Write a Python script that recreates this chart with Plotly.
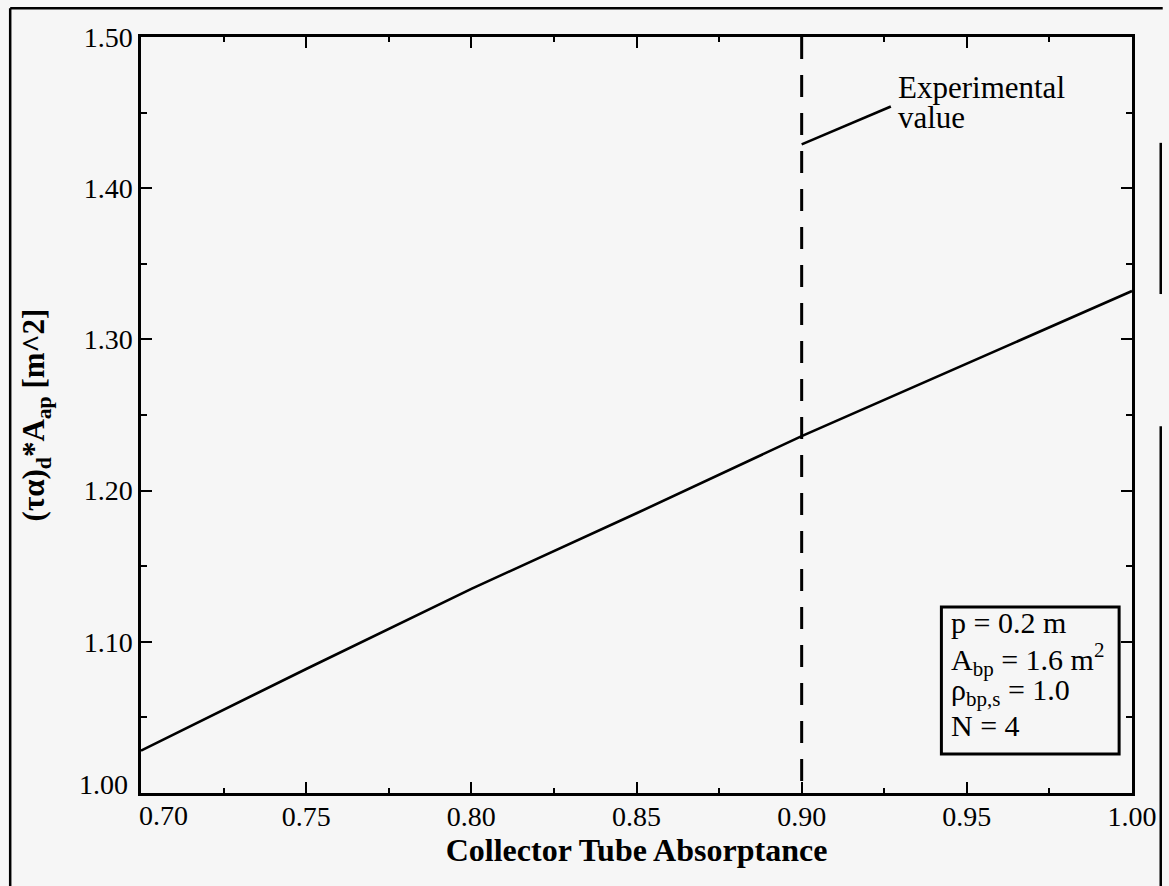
import plotly.graph_objects as go

# Absorptance sweep and resulting effective aperture product
absorptance = [0.70, 0.75, 0.80, 0.85, 0.90, 0.95, 1.00]
tau_alpha_area = [1.028, 1.082, 1.135, 1.185, 1.236, 1.284, 1.332]

# Experimental value marker and its label leader
experimental_x = [0.90, 0.90]
experimental_y = [1.50, 1.00]
leader_x = [0.90, 0.927]
leader_y = [1.429, 1.454]

# Tick labels; the corner labels 0.70 and 1.00 are placed separately
x_ticks = [0.75, 0.80, 0.85, 0.90, 0.95, 1.00]
x_tick_text = ["0.75", "0.80", "0.85", "0.90", "0.95", "1.00"]
y_ticks = [1.10, 1.20, 1.30, 1.40, 1.50]
y_tick_text = ["1.10", "1.20", "1.30", "1.40", "1.50"]

# Parameter legend: box extent and its text lines
params_box_x = [0.9423, 0.9961]
params_box_y = [1.0258, 1.1230]
params_lines = ["p = 0.2 m",
                "A<sub>bp</sub> = 1.6 m<sup>2</sup>",
                "ρ<sub>bp,s</sub> = 1.0",
                "N = 4"]
params_line_y = [1.1128, 1.0885, 1.0668, 1.0448]

FONT = "Liberation Serif"
BG = "#f6f6f6"
TICK_SIZE = 28

fig = go.Figure()
fig.add_trace(go.Scatter(x=absorptance, y=tau_alpha_area, mode="lines",
                         line=dict(color="black", width=2.6), showlegend=False))
fig.add_trace(go.Scatter(x=experimental_x, y=experimental_y, mode="lines",
                         line=dict(color="black", width=3, dash="22px,16px"),
                         showlegend=False))
fig.add_trace(go.Scatter(x=leader_x, y=leader_y, mode="lines",
                         line=dict(color="black", width=2.6), showlegend=False))

axis_common = dict(
    showgrid=False, zeroline=False, showline=True, linecolor="black",
    linewidth=2.5, mirror="ticks", ticks="inside", tickcolor="black",
    tickwidth=2, ticklen=11,
    tickfont=dict(family=FONT, size=TICK_SIZE, color="black"),
)
fig.update_xaxes(range=[0.70, 1.00], tickvals=x_ticks, ticktext=x_tick_text,
                 minor=dict(dtick=0.025, ticks="inside", ticklen=5,
                            tickwidth=2, tickcolor="black"),
                 ticklabelstandoff=-3,
                 title=dict(text="<b>Collector Tube Absorptance</b>",
                            font=dict(family=FONT, size=32, color="black"),
                            standoff=6),
                 **axis_common)
fig.update_yaxes(range=[1.00, 1.50], tickvals=y_ticks, ticktext=y_tick_text,
                 minor=dict(dtick=0.05, ticks="inside", ticklen=6,
                            tickwidth=2, tickcolor="black"),
                 title=dict(text="<b>(τα)<sub>d</sub>*A<sub>ap</sub> [m^2]</b>",
                            font=dict(family=FONT, size=31, color="black"),
                            standoff=30),
                 **axis_common)

# Corner tick labels nudged away from each other
fig.add_annotation(x=0.70, y=0, xref="x", yref="paper", text="0.70",
                   showarrow=False, yanchor="top", xanchor="center",
                   xshift=22, yshift=-5,
                   font=dict(family=FONT, size=TICK_SIZE, color="black"))
fig.add_annotation(x=0, y=1.00, xref="paper", yref="y", text="1.00",
                   showarrow=False, xanchor="right", yanchor="middle",
                   xshift=-11, yshift=9,
                   font=dict(family=FONT, size=TICK_SIZE, color="black"))

# Label for the experimental value, one annotation per line
label_font = dict(family=FONT, size=31, color="black")
fig.add_annotation(x=0.9285, y=1.4665, xref="x", yref="y",
                   text="Experimental", showarrow=False,
                   xanchor="left", yanchor="middle", font=label_font)
fig.add_annotation(x=0.9285, y=1.4465, xref="x", yref="y",
                   text="value", showarrow=False,
                   xanchor="left", yanchor="middle", font=label_font)

# Parameter legend box
fig.add_shape(type="rect", xref="x", yref="y",
              x0=params_box_x[0], x1=params_box_x[1],
              y0=params_box_y[0], y1=params_box_y[1],
              line=dict(color="black", width=3))
for line_text, line_y in zip(params_lines, params_line_y):
    fig.add_annotation(x=params_box_x[0], y=line_y, xref="x", yref="y",
                       text=line_text, showarrow=False, xshift=8,
                       xanchor="left", yanchor="middle", align="left",
                       font=dict(family=FONT, size=30, color="black"))

# Page frame
frame = dict(type="line", xref="paper", yref="paper",
             line=dict(color="black", width=2.5))
fig.add_shape(x0=-0.132, x1=1.031, y0=1.038, y1=1.038, **frame)
fig.add_shape(x0=-0.132, x1=-0.132, y0=1.038, y1=-0.14, **frame)
fig.add_shape(x0=1.029, x1=1.029, y0=0.86, y1=0.66, **frame)
fig.add_shape(x0=1.029, x1=1.029, y0=0.485, y1=-0.14, **frame)

fig.update_layout(
    width=1169, height=886,
    margin=dict(l=141, r=33, t=37, b=93),
    paper_bgcolor=BG, plot_bgcolor=BG,
    font=dict(family=FONT, color="black"),
)

fig.write_html("out.html")
